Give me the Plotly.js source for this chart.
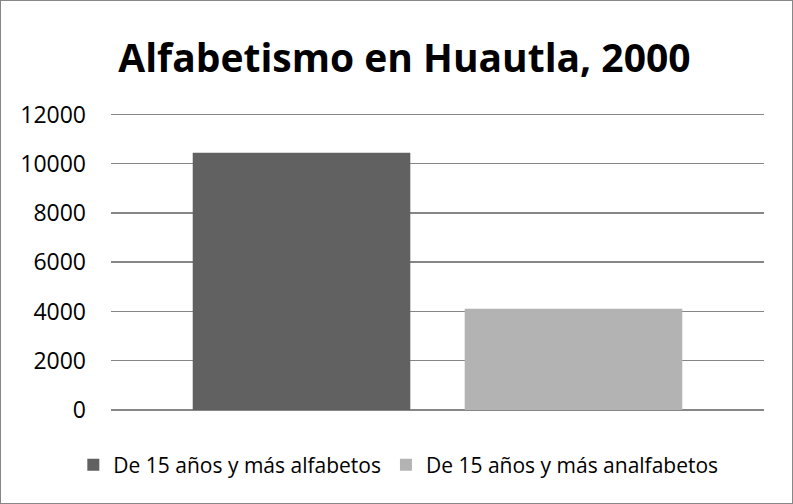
<!DOCTYPE html>
<html>
<head>
<meta charset="utf-8">
<script src="https://cdn.plot.ly/plotly-3.0.1.min.js"></script>
<style>
  html, body { margin: 0; padding: 0; background: #fff; }
  #frame { position: absolute; left: 0; top: 0; width: 791px; height: 502px; border: 1px solid #878787; pointer-events: none; }
  #chart { position: absolute; left: 0; top: 0; width: 793px; height: 504px; }
</style>
</head>
<body>
<div id="chart"></div>
<div id="frame"></div>
<script>
const chartTitle = "Alfabetismo en Huautla, 2000";
const category = [""];
const seriesNames = ["De 15 años y más alfabetos", "De 15 años y más analfabetos"];
const alfabetos = [10450];
const analfabetos = [4115];
const yTicks = [0, 2000, 4000, 6000, 8000, 10000, 12000];

const fontFam = "'Open Sans', 'Noto Sans', sans-serif";

const traces = [
  { type: "bar", name: seriesNames[0], x: category, y: alfabetos, marker: { color: "#616161" }, hoverinfo: "skip" },
  { type: "bar", name: seriesNames[1], x: category, y: analfabetos, marker: { color: "#b3b3b3" }, hoverinfo: "skip" }
];

const layout = {
  width: 793, height: 504,
  margin: { l: 111, r: 29, t: 112, b: 94, pad: 0, autoexpand: false },
  paper_bgcolor: "#ffffff", plot_bgcolor: "#ffffff",
  font: { family: fontFam, color: "#000000", size: 20 },
  title: { text: "<b>" + chartTitle + "</b>", font: { family: fontFam, size: 39, color: "#000" },
           x: 0.51, xanchor: "center", xref: "container", y: 1 - 58/504, yanchor: "middle", yref: "container" },
  barmode: "group", bargap: 0.167, bargroupgap: 0.2,
  showlegend: true,
  legend: { orientation: "h", x: 0.44, xanchor: "center", y: -0.185, yanchor: "middle",
            font: { family: fontFam, size: 21, color: "#000" }, traceorder: "normal" },
  xaxis: { type: "category", showticklabels: false, showgrid: false, showline: false, zeroline: false, ticks: "", fixedrange: true },
  yaxis: { range: [0, 12100], tickvals: yTicks, ticktext: yTicks.map(String), showgrid: true, gridcolor: "#868686", gridwidth: 1.5,
           zeroline: true, zerolinecolor: "#868686", zerolinewidth: 1.5, showline: false, ticks: "",
           ticklabelstandoff: 24, tickfont: { family: fontFam, size: 23, color: "#000" }, fixedrange: true }
};

Plotly.newPlot("chart", traces, layout, { displayModeBar: false, staticPlot: true });
</script>
</body>
</html>
